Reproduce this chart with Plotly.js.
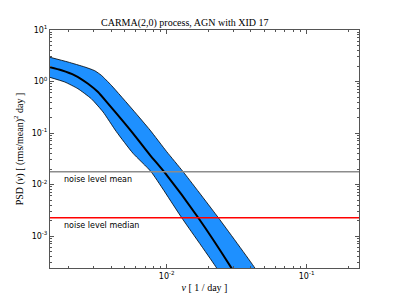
<!DOCTYPE html>
<html>
<head>
<meta charset="utf-8">
<script src="https://cdn.plot.ly/plotly-3.0.1.min.js"></script>
<style>html,body{margin:0;padding:0;background:#fff;}#chart{width:399px;height:299px;}</style>
</head>
<body>
<div id="chart"></div>
<script>
// Median PSD of the CARMA(2,0) model
const nuMid  = [0.00144, 0.00177, 0.00220, 0.00274, 0.00323, 0.00381, 0.00437, 0.00574, 0.00760, 0.00957, 0.0168, 0.0291, 0.0362];
const psdMid = [1.91, 1.65, 1.32, 0.906, 0.625, 0.371, 0.241, 0.0986, 0.0374, 0.0177, 0.00226, 0.000236, 0.000089];
// Upper edge of the confidence band
const nuHi  = [0.00144, 0.00197, 0.00260, 0.00306, 0.00341, 0.00402, 0.00574, 0.00760, 0.0100, 0.0131, 0.0234, 0.0428, 0.053];
const psdHi = [2.99, 2.39, 1.91, 1.62, 1.32, 0.843, 0.280, 0.114, 0.0434, 0.0177, 0.00226, 0.000236, 0.000089];
// Lower edge of the confidence band
const nuLo  = [0.00144, 0.00187, 0.00232, 0.00289, 0.00351, 0.00437, 0.00574, 0.00773, 0.0128, 0.0228, 0.0279];
const psdLo = [1.22, 0.977, 0.725, 0.463, 0.256, 0.106, 0.0404, 0.0177, 0.00226, 0.000236, 0.000089];
// Noise levels
const noiseMean = 0.0177;
const noiseMedian = 0.00227;
const noiseLabels = ["noise level mean", "noise level median"];
// Tick labels
const xTickVals = [0.01, 0.1];
const xTickText = ["10<sup>-2</sup>", "10<sup>-1</sup>"];
const yTickVals = [10, 1, 0.1, 0.01, 0.001];
const yTickText = ["10<sup>1</sup>", "10<sup>0</sup>", "10<sup>-1</sup>", "10<sup>-2</sup>", "10<sup>-3</sup>"];
const titleText = "CARMA(2,0) process, AGN with XID 17";
const xTitle = "<i>ν</i> [ 1 / day ]";
const yTitle = "PSD (<i>ν</i>) [ (rms/mean)<sup>2</sup> day ]";

// minor tick positions (2..9 x each decade)
function minorVals(pMin, pMax) {
  const out = [];
  for (let p = pMin; p <= pMax; p++) for (let m = 2; m <= 9; m++) out.push(m * Math.pow(10, p));
  return out;
}

const bandX = nuHi.concat(nuLo.slice().reverse());
const bandY = psdHi.concat(psdLo.slice().reverse());

const xRange = [-2.834, -0.626];
const yRange = [-3.621, 1];

const traces = [
  {x: bandX, y: bandY, type: 'scatter', mode: 'lines', fill: 'toself',
   fillcolor: '#1E90FF', line: {color: '#000', width: 0.8, shape: 'spline', smoothing: 0.5}, hoverinfo: 'skip'},
  {x: nuMid, y: psdMid, type: 'scatter', mode: 'lines',
   line: {color: '#000', width: 2, shape: 'spline', smoothing: 0.6}},
  // carrier for the minor-tick overlay axes
  {x: nuMid, y: psdMid, type: 'scatter', mode: 'none', xaxis: 'x2', yaxis: 'y2', hoverinfo: 'skip'}
];

const tickFont = {family: 'DejaVu Sans', size: 8, color: '#000'};
const serif = {family: 'Liberation Serif, DejaVu Serif', size: 10, color: '#000'};

const layout = {
  width: 399, height: 299,
  margin: {l: 50, r: 40, t: 30, b: 31},
  paper_bgcolor: '#fff', plot_bgcolor: '#fff',
  showlegend: false,
  title: {text: titleText, font: serif, x: 0.463, xref: 'container', xanchor: 'center',
          y: 0.925, yref: 'container', yanchor: 'middle'},
  xaxis: {type: 'log', range: xRange, tickmode: 'array', tickvals: xTickVals, ticktext: xTickText,
          showgrid: false, zeroline: false, showline: true, linecolor: '#555', linewidth: 1,
          mirror: 'allticks', ticks: 'inside', ticklen: 4, tickcolor: '#555',
          tickfont: tickFont,
          title: {text: xTitle, font: serif, standoff: 4}},
  yaxis: {type: 'log', range: yRange, tickmode: 'array', tickvals: yTickVals, ticktext: yTickText,
          showgrid: false, zeroline: false, showline: true, linecolor: '#555', linewidth: 1,
          mirror: 'allticks', ticks: 'inside', ticklen: 4, tickcolor: '#555',
          tickfont: tickFont,
          title: {text: yTitle, font: serif, standoff: 6}},
  xaxis2: {type: 'log', range: xRange, overlaying: 'x', anchor: 'y2', tickmode: 'array', tickvals: minorVals(-3, -1),
           showticklabels: false, showgrid: false, zeroline: false, showline: false,
           mirror: 'allticks', ticks: 'inside', ticklen: 2, tickcolor: '#555'},
  yaxis2: {type: 'log', range: yRange, overlaying: 'y', anchor: 'x2', tickmode: 'array', tickvals: minorVals(-4, 0),
           showticklabels: false, showgrid: false, zeroline: false, showline: false,
           mirror: 'allticks', ticks: 'inside', ticklen: 2, tickcolor: '#555'},
  shapes: [
    {type: 'line', xref: 'paper', x0: 0, x1: 1, yref: 'y', y0: noiseMean, y1: noiseMean,
     line: {color: '#8c8c8c', width: 1.5}},
    {type: 'line', xref: 'paper', x0: 0, x1: 1, yref: 'y', y0: noiseMedian, y1: noiseMedian,
     line: {color: '#ff0000', width: 1.5}}
  ],
  annotations: [
    {text: noiseLabels[0], xref: 'paper', x: 0.04, xanchor: 'left', yref: 'y', y: Math.log10(noiseMean),
     yanchor: 'top', yshift: -1, showarrow: false, font: {family: 'DejaVu Sans', size: 8, color: '#000'}},
    {text: noiseLabels[1], xref: 'paper', x: 0.04, xanchor: 'left', yref: 'y', y: Math.log10(noiseMedian),
     yanchor: 'top', yshift: -1, showarrow: false, font: {family: 'DejaVu Sans', size: 8, color: '#000'}}
  ]
};

Plotly.newPlot('chart', traces, layout, {displayModeBar: false, staticPlot: true});
</script>
</body>
</html>
